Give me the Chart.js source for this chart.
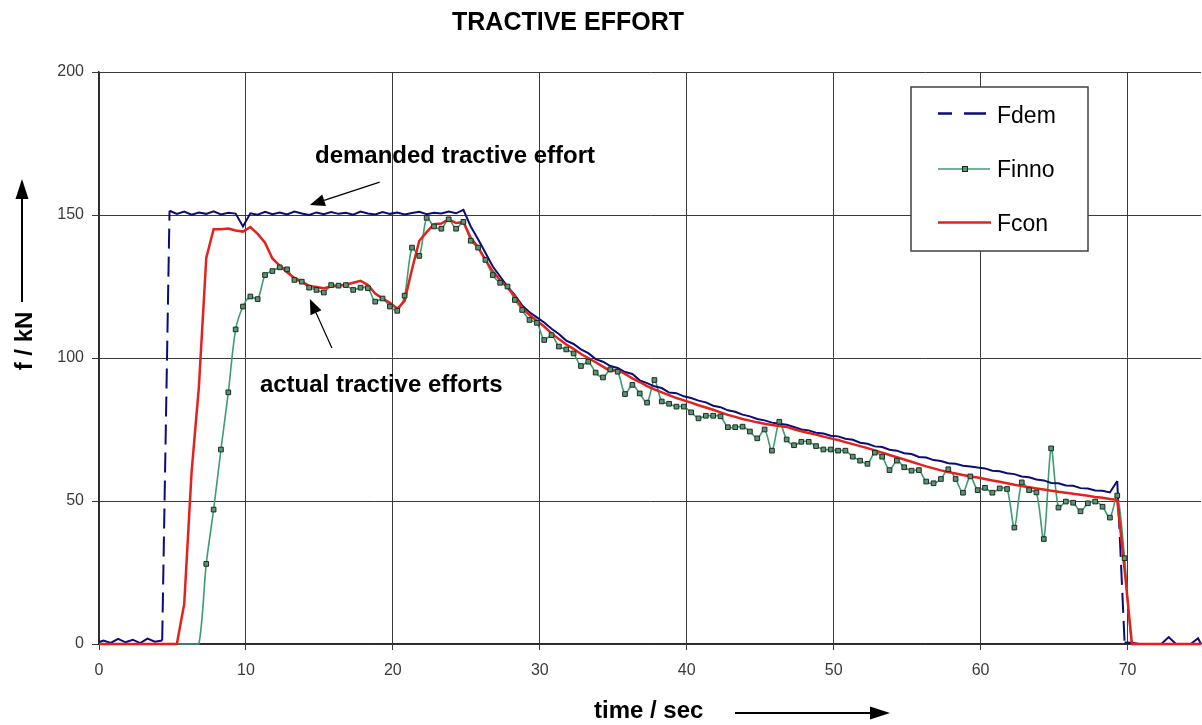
<!DOCTYPE html>
<html>
<head>
<meta charset="utf-8">
<script src="https://cdn.jsdelivr.net/npm/chart.js@4.4.1/dist/chart.umd.min.js"></script>
<style>
  html, body { margin: 0; padding: 0; background: #ffffff; }
  #wrap { width: 1202px; height: 725px; position: relative; }
</style>
</head>
<body>
<div id="wrap"><canvas id="c" width="1202" height="725"></canvas></div>
<script>
// ---------- DATA ----------
const titleText = 'TRACTIVE EFFORT';
const xTitle = 'time / sec';
const yTitle = 'f / kN';
const seriesNames = ['Fdem', 'Finno', 'Fcon'];
const xTicks = [0, 10, 20, 30, 40, 50, 60, 70];
const yTicks = [0, 50, 100, 150, 200];

const time = [0,
  0.3,0.8,1.3,1.8,2.3,2.8,3.3,3.8,4.3,4.8,
  5.3,5.8,6.3,6.8,7.3,7.8,8.3,8.8,9.3,9.8,
  10.3,10.8,11.3,11.8,12.3,12.8,13.3,13.8,14.3,14.8,
  15.3,15.8,16.3,16.8,17.3,17.8,18.3,18.8,19.3,19.8,
  20.3,20.8,21.3,21.8,22.3,22.8,23.3,23.8,24.3,24.8,
  25.3,25.8,26.3,26.8,27.3,27.8,28.3,28.8,29.3,29.8,
  30.3,30.8,31.3,31.8,32.3,32.8,33.3,33.8,34.3,34.8,
  35.3,35.8,36.3,36.8,37.3,37.8,38.3,38.8,39.3,39.8,
  40.3,40.8,41.3,41.8,42.3,42.8,43.3,43.8,44.3,44.8,
  45.3,45.8,46.3,46.8,47.3,47.8,48.3,48.8,49.3,49.8,
  50.3,50.8,51.3,51.8,52.3,52.8,53.3,53.8,54.3,54.8,
  55.3,55.8,56.3,56.8,57.3,57.8,58.3,58.8,59.3,59.8,
  60.3,60.8,61.3,61.8,62.3,62.8,63.3,63.8,64.3,64.8,
  65.3,65.8,66.3,66.8,67.3,67.8,68.3,68.8,69.3,69.8,
  70.3,70.8,71.3,71.8,72.3,72.8,73.3,73.8,74.3,74.8,
  75];

const fdem = [0.6,
  1.2,0.4,1.8,0.6,1.5,0.3,1.9,0.8,1.2,151.5,
  150.4,151.2,150.1,150.9,150.4,151.3,150.2,150.8,150.5,146,
  150.6,150.1,151.1,150.3,150.9,150.2,151.2,150.5,150.0,150.9,
  150.3,151.0,150.4,150.8,150.1,151.2,150.5,150.2,151.0,150.4,
  150.9,150.2,150.7,151.1,150.3,150.8,150.5,151.2,150.6,151.8,
  146,141.5,136.8,132,128.5,125,122,118.4,116,114.2,
  112.4,110.2,108.4,106.1,104.9,103,101.7,99.6,98.7,97.2,
  96.5,95.1,94.4,92.2,91.2,90.1,89.5,87.9,87.7,86.6,
  86.0,85.1,84.5,83.3,82.8,81.7,81.2,80.2,79.6,78.7,
  78.2,77.4,77.0,76.7,75.9,75.0,74.7,73.9,73.6,72.8,
  72.6,71.8,71.4,70.4,70.0,69.1,68.9,67.9,67.6,66.7,
  66.4,65.4,65.2,64.3,64.0,63.2,63.0,62.3,62.1,61.7,
  61.4,60.6,60.4,59.7,59.4,58.6,58.3,57.5,57.2,56.3,
  56.2,55.4,55.3,54.5,54.4,53.7,53.6,53.0,57,0.5,
  0.4,0,0,0,0,2.4,0,0,0,2,
  0];

const finno = [0,
  0,0,0,0,0,0,0,0,0,0,
  0,0,0,0,28,47,68,88,110,118,
  121.5,120.6,129,130.4,131.7,131,127.3,126.7,124.6,123.8,
  122.9,125.5,125.3,125.5,123.8,124.6,124.4,119.7,120.8,118,
  116.5,121.8,138.6,135.7,149,146,145.2,148.5,145.2,147.6,
  141,138.6,134.3,129,126.3,125,120.3,116.8,113.3,112.3,
  106.3,108,104,103,101.6,97.2,98.7,94.9,93.2,96,
  95.2,87.4,90.6,87.6,84.4,92.3,84.8,84,83,83,
  81,78.9,79.8,79.8,79.6,75.8,75.8,76,74.3,71.9,
  75,67.6,77.7,71.5,69.5,70.7,70.7,69.2,68,68,
  67.6,67.6,65.5,64.1,63,66.9,65.5,60.8,64.1,61.8,
  60.6,60.8,56.8,56.2,57.7,61.1,57.7,52.9,58.6,53.8,
  54.6,52.9,54.4,54.2,40.7,56.5,53.8,53,36.7,68.4,
  47.7,49.8,49.4,46.4,49.2,49.8,48,44.2,51.9,30,
  0,0,0,0,0,0,0,0,0,0,
  0];

const fcon = [0,
  0,0,0,0,0,0,0,0,0,0,
  0,14,60,90,135,145,145,145.3,144.6,144.2,
  145.8,143.4,140.3,134.8,132.3,130,128,126.7,125.2,124.8,
  124.4,125,125.3,125.6,126.3,127,125.5,122.5,120.8,119.3,
  117.2,120,131,141,144,146.8,147,148.5,147.2,147.5,
  142,138.7,134.2,130.3,127.2,124.7,121.6,117.5,115,113,
  111,108.6,106.6,104.7,103.2,101.4,100,98.5,97,95.4,
  95.8,94.4,92.9,91.6,90.2,89,88,87,86,85.2,
  84.4,83.5,82.7,81.9,81,80.1,79.4,78.7,78.1,77.5,
  77,76.6,76.2,75.9,75.1,74.4,73.8,73.2,72.5,71.9,
  71.3,70.6,69.9,69.2,68.5,67.7,66.9,66.1,65.3,64.5,
  63.7,62.9,62.1,61.4,60.7,60.1,59.6,59.1,58.6,58.2,
  57.7,57.2,56.7,56.2,55.7,55.2,54.8,54.4,54,53.6,
  53.2,52.9,52.5,52.2,51.8,51.4,51.1,50.7,50.4,26,
  0,0,0,0,0,0,0,0,0,0,
  0];

// ---------- STYLE ----------
const FONT = '"Liberation Sans", Arial, Helvetica, sans-serif';
const C_DEM = '#0c0c78';
const C_INNO = '#3c9c72';
const C_CON = '#e4211c';
const C_MARK_FILL = '#5c9474';
const C_MARK_EDGE = '#1c2c20';
const GRID = '#3a3a3a';

const pts = (arr) => time.map((t, i) => ({ x: t, y: arr[i] }));

function arrow(ctx, x1, y1, x2, y2, len, half, lw) {
  const a = Math.atan2(y2 - y1, x2 - x1);
  const bx = x2 - len * Math.cos(a), by = y2 - len * Math.sin(a);
  ctx.beginPath();
  ctx.lineWidth = lw;
  ctx.moveTo(x1, y1);
  ctx.lineTo(bx, by);
  ctx.stroke();
  ctx.beginPath();
  ctx.moveTo(x2, y2);
  ctx.lineTo(bx + half * Math.sin(a), by - half * Math.cos(a));
  ctx.lineTo(bx - half * Math.sin(a), by + half * Math.cos(a));
  ctx.closePath();
  ctx.fill();
}

const deco = {
  id: 'deco',
  afterDraw(chart) {
    const ctx = chart.ctx;
    const xs = chart.scales.x, ys = chart.scales.y;
    const px = (v) => xs.getPixelForValue(v);
    const py = (v) => ys.getPixelForValue(v);
    ctx.save();
    ctx.fillStyle = '#000';
    ctx.strokeStyle = '#000';
    ctx.textBaseline = 'alphabetic';

    // title
    ctx.font = 'bold 25px ' + FONT;
    ctx.textAlign = 'center';
    ctx.fillText(titleText, 568, 30);

    // annotations (anchored in data units)
    ctx.font = 'bold 24px ' + FONT;
    ctx.textAlign = 'left';
    ctx.fillText('demanded tractive effort', px(14.7), py(168.2));
    arrow(ctx, px(19.1), py(161.5), px(14.35), py(153.5), 15, 6, 1.2);
    ctx.fillText('actual tractive efforts', px(10.95), py(88.1));
    arrow(ctx, px(15.85), py(103.5), px(14.35), py(120.6), 15, 6, 1.2);

    // x title + arrow
    ctx.fillText(xTitle, 594, 718);
    arrow(ctx, 735, 713, 890, 713, 20, 6.5, 2);

    // y title + arrow
    ctx.save();
    ctx.translate(32, 341);
    ctx.rotate(-Math.PI / 2);
    ctx.textAlign = 'center';
    ctx.fillText(yTitle, 0, 0);
    ctx.restore();
    arrow(ctx, 22, 302, 22, 179, 20, 6.5, 2);

    // legend box
    const lx = 911, ly = 87, lw = 177, lh = 164;
    ctx.fillStyle = '#ffffff';
    ctx.fillRect(lx, ly, lw, lh);
    ctx.strokeStyle = '#404040';
    ctx.lineWidth = 1.5;
    ctx.strokeRect(lx, ly, lw, lh);

    // Fdem sample (dashed)
    ctx.strokeStyle = C_DEM;
    ctx.lineWidth = 2.5;
    ctx.beginPath();
    ctx.moveTo(938, 113.5); ctx.lineTo(952, 113.5);
    ctx.moveTo(964, 113.5); ctx.lineTo(986, 113.5);
    ctx.stroke();
    // Finno sample
    ctx.strokeStyle = C_INNO;
    ctx.lineWidth = 1.5;
    ctx.beginPath();
    ctx.moveTo(938, 169); ctx.lineTo(990, 169);
    ctx.stroke();
    ctx.fillStyle = C_MARK_FILL;
    ctx.fillRect(962.5, 166.5, 5, 5);
    ctx.strokeStyle = C_MARK_EDGE;
    ctx.lineWidth = 1;
    ctx.strokeRect(962.5, 166.5, 5, 5);
    // Fcon sample
    ctx.strokeStyle = C_CON;
    ctx.lineWidth = 2.5;
    ctx.beginPath();
    ctx.moveTo(938, 222.5); ctx.lineTo(991, 222.5);
    ctx.stroke();

    ctx.fillStyle = '#000';
    ctx.font = '23px ' + FONT;
    ctx.textAlign = 'left';
    ctx.fillText(seriesNames[0], 997, 122.5);
    ctx.fillText(seriesNames[1], 997, 176.5);
    ctx.fillText(seriesNames[2], 997, 230.5);
    ctx.restore();
  }
};

new Chart(document.getElementById('c'), {
  type: 'line',
  data: {
    datasets: [
      {
        label: seriesNames[0],
        data: pts(fdem),
        borderColor: C_DEM,
        borderWidth: 2,
        pointRadius: 0,
        tension: 0,
        order: 2,
        clip: 4,
        segment: {
          borderDash: (c) => Math.abs(c.p1.parsed.y - c.p0.parsed.y) > 30 ? [20, 8] : undefined
        }
      },
      {
        label: seriesNames[1],
        data: pts(finno),
        borderColor: C_INNO,
        borderWidth: 1.6,
        pointRadius: 0,
        tension: 0.3,
        order: 3,
        clip: 4
      },
      {
        label: seriesNames[2],
        data: pts(fcon),
        borderColor: C_CON,
        borderWidth: 2.5,
        pointRadius: 0,
        tension: 0,
        order: 1,
        clip: 4
      },
      {
        label: seriesNames[1] + ' markers',
        data: pts(finno),
        showLine: false,
        pointStyle: 'rect',
        pointRadius: (c) => (c.raw && c.raw.y > 0 ? 3.3 : 0),
        pointBackgroundColor: C_MARK_FILL,
        pointBorderColor: C_MARK_EDGE,
        pointBorderWidth: 1,
        order: 0,
        clip: 6
      }
    ]
  },
  options: {
    responsive: false,
    animation: false,
    devicePixelRatio: 1,
    layout: { padding: { top: 72, right: 1, left: 0, bottom: 0 } },
    plugins: {
      legend: { display: false },
      tooltip: { enabled: false },
      title: { display: false }
    },
    scales: {
      x: {
        type: 'linear',
        min: 0,
        max: 75,
        afterFit: (s) => { s.height = 81; },
        afterBuildTicks: (s) => { s.ticks = xTicks.map(v => ({ value: v })); },
        ticks: {
          stepSize: 10,
          includeBounds: false,
          color: '#3a3a3a',
          font: { family: FONT, size: 16 },
          padding: 11,
          maxRotation: 0
        },
        grid: { color: GRID, lineWidth: 1, tickLength: 6 },
        border: { color: '#2a2a2a', width: 1.5 }
      },
      y: {
        min: 0,
        max: 200,
        afterFit: (s) => { s.width = 99; },
        afterBuildTicks: (s) => { s.ticks = yTicks.map(v => ({ value: v })); },
        ticks: {
          stepSize: 50,
          color: '#3a3a3a',
          font: { family: FONT, size: 16 },
          padding: 8
        },
        grid: { color: GRID, lineWidth: 1, tickLength: 7 },
        border: { color: '#2a2a2a', width: 1.5 }
      }
    }
  },
  plugins: [deco]
});
</script>
</body>
</html>
